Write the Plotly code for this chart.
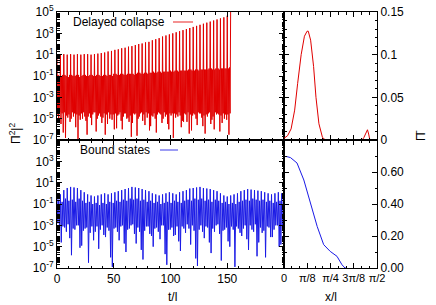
import math
import plotly.graph_objects as go

# ---------------- data ----------------
# Delayed collapse: log10 |Pi|^2 per oscillation cycle (samples every 0.5 t/l)
red_dt = 0.5
red_cycles = [
    (1.0, -4.6, -0.9, -5.2, -1.1, -4.4),
    (1.0, -5.5, -1.0, -4.5, -0.9, -6.3),
    (1.05, -4.4, -0.9, -6.8, -1.0, -4.7),
    (1.0, -4.9, -1.1, -4.6, -0.9, -5.3),
    (1.05, -5.0, -0.9, -4.4, -1.0, -4.8),
    (1.0, -4.5, -1.0, -5.8, -0.9, -4.6),
    (1.05, -6.9, -0.9, -4.7, -1.1, -5.1),
    (1.0, -4.5, -1.0, -5.0, -0.9, -4.4),
    (1.05, -4.8, -0.9, -5.2, -1.0, -6.5),
    (1.05, -4.8, -1.0, -4.5, -0.9, -4.9),
    (1.0, -5.6, -0.9, -4.6, -1.0, -4.4),
    (1.05, -4.4, -1.0, -6.2, -0.9, -5.0),
    (1.1, -4.7, -0.9, -4.5, -1.0, -4.8),
    (1.15, -5.4, -1.0, -4.9, -0.9, -4.5),
    (1.2, -6.5, -0.9, -4.6, -1.0, -5.5),
    (1.3, -4.4, -0.9, -5.0, -0.9, -4.6),
    (1.35, -5.1, -1.0, -4.6, -0.8, -6.0),
    (1.45, -4.5, -0.8, -5.9, -0.9, -4.7),
    (1.5, -4.6, -0.9, -4.4, -0.8, -5.2),
    (1.6, -6.0, -0.8, -4.8, -0.9, -4.5),
    (1.65, -4.5, -0.9, -5.0, -0.8, -4.9),
    (1.75, -5.3, -0.8, -4.7, -0.8, -6.7),
    (1.8, -5.4, -0.8, -4.5, -0.9, -4.6),
    (1.9, -4.5, -0.8, -6.6, -0.7, -5.0),
    (2.0, -4.8, -0.7, -4.5, -0.8, -4.4),
    (2.05, -5.2, -0.8, -4.6, -0.7, -5.6),
    (2.15, -4.4, -0.7, -4.9, -0.8, -4.5),
    (2.2, -6.1, -0.7, -5.7, -0.7, -4.7),
    (2.35, -4.8, -0.6, -4.5, -0.7, -5.0),
    (2.45, -6.3, -0.7, -4.6, -0.6, -4.4),
    (2.55, -4.5, -0.6, -4.6, -0.7, -5.4),
    (2.7, -5.0, -0.6, -4.4, -0.6, -4.8),
    (2.8, -4.6, -0.6, -5.5, -0.6, -6.0),
    (2.9, -4.5, -0.5, -4.7, -0.6, -4.5),
    (3.0, -6.8, -0.6, -4.5, -0.5, -4.9),
    (3.1, -4.6, -0.5, -4.8, -0.6, -4.4),
    (3.2, -4.7, -0.5, -5.8, -0.5, -5.2),
    (3.3, -5.3, -0.5, -4.5, -0.5, -4.6),
    (3.4, -5.3, -0.5, -4.4, -0.4, -6.4),
    (3.5, -4.6, -0.4, -6.1, -0.5, -4.7),
    (3.6, -4.5, -0.5, -4.6, -0.4, -5.0),
    (3.7, -5.6, -0.4, -4.4, -0.5, -4.5),
    (3.8, -4.5, -0.4, -4.9, -0.4, -5.7),
    (3.9, -4.7, -0.4, -6.4, -0.4, -4.6),
    (4.0, -4.8, -0.4, -4.5, -0.3, -4.4),
    (4.1, -5.5, -0.3, -5.1, -0.4, -4.8),
    (4.2, -6.0, -0.4, -4.4, -0.3, -4.6),
    (4.3, -4.5, -0.3, -4.6, -0.4, -6.2),
    (4.4, -4.7, -0.3, -5.4, -0.3, -4.5),
    (4.5, -5.0, -0.3, -4.6, -0.3, -5.1),
    (4.65, -4.6, -0.3, -6.5, -0.2, -4.5),
    (5.6,),
]

# Bound states: log10 |Pi|^2 per oscillation cycle (samples every 0.75 t/l)
blue_dt = 0.75
blue_cycles = [
    (-0.3, -2.8, -0.6, -3.4), (-0.1, -4.6, -0.8, -3.1), (0.3, -3.2, -0.5, -3.6),
    (0.5, -2.9, -0.7, -4.2), (0.6, -5.8, -0.6, -3.3), (0.55, -3.4, -0.8, -3.0),
    (0.5, -3.0, -0.5, -5.1), (0.3, -4.9, -0.7, -3.5), (0.1, -3.3, -0.9, -3.2),
    (-0.1, -6.5, -0.8, -3.7), (-0.2, -3.1, -1.0, -4.4), (-0.3, -3.6, -0.9, -3.1),
    (-0.2, -5.2, -1.1, -3.4), (-0.1, -3.0, -0.9, -3.9), (0.0, -4.1, -1.0, -3.2),
    (-0.1, -3.5, -0.8, -6.0), (0.0, -6.9, -0.9, -3.3), (0.1, -3.2, -0.7, -3.6),
    (0.2, -4.4, -0.8, -3.1), (0.3, -3.0, -0.6, -4.7), (0.4, -5.5, -0.7, -3.4),
    (0.5, -3.3, -0.5, -3.0), (0.6, -2.9, -0.6, -3.8), (0.55, -4.7, -0.5, -3.2),
    (0.5, -3.6, -0.7, -5.3), (0.4, -6.2, -0.6, -3.5), (0.3, -3.1, -0.8, -3.1),
    (0.2, -3.8, -0.7, -4.0), (0.0, -5.0, -0.9, -3.3), (-0.1, -3.2, -0.8, -3.6),
    (-0.2, -4.3, -1.0, -3.0), (-0.1, -3.0, -0.9, -5.7), (0.0, -6.7, -0.8, -3.4),
    (0.1, -3.4, -0.9, -3.2), (0.0, -4.0, -0.7, -3.9), (-0.1, -3.1, -0.8, -4.5),
    (0.1, -5.4, -0.9, -3.1), (0.2, -3.3, -0.7, -3.7), (0.3, -2.9, -0.6, -3.3),
    (0.45, -4.8, -0.7, -3.0), (0.5, -3.5, -0.5, -6.1), (0.55, -6.8, -0.6, -3.4),
    (0.6, -3.0, -0.5, -3.6), (0.5, -4.2, -0.7, -3.1), (0.45, -3.2, -0.6, -4.6),
    (0.4, -5.6, -0.8, -3.3), (0.3, -3.6, -0.6, -3.0), (0.2, -2.9, -0.7, -3.8),
    (0.0, -6.3, -0.9, -3.5), (-0.2, -3.4, -0.8, -3.2), (-0.3, -4.5, -1.0, -5.0),
    (-0.2, -3.1, -0.9, -3.4), (-0.1, -6.9, -1.0, -3.1), (0.0, -3.3, -0.8, -3.7),
    (0.2, -4.0, -0.7, -3.3), (0.3, -3.0, -0.6, -4.3), (0.4, -5.3, -0.7, -3.0),
    (0.35, -3.4, -0.5, -3.6), (0.3, -2.9, -0.6, -5.9), (0.25, -4.6, -0.7, -3.2),
    (0.2, -3.7, -0.6, -3.5), (0.1, -6.0, -0.8, -3.1), (0.0, -3.2, -0.7, -4.1),
    (-0.1, -4.1, -0.9, -3.4), (0.0, -3.0, -0.8, -3.0), (0.1, -5.0, -0.7, -4.8),
    (0.0, -3.5, -0.8, -3.3),
]

# Right panels: profile vs x/l
red_x = [0, 0.06, 0.12, 0.18, 0.23, 0.29, 0.345, 0.39, 0.41, 0.45, 0.50, 0.54,
         0.59, 0.65, 0.70, 1.32, 1.35, 1.38, 1.41, 1.43, 1.45, 1.52]
red_p = [0.002, 0.005, 0.013, 0.035, 0.066, 0.1, 0.1216, 0.1275, 0.1275, 0.117,
         0.086, 0.05, 0.019, 0.003, 0.0, 0.0, 0.003, 0.008, 0.012, 0.007, 0.0, 0.0]
blue_x = [0, 0.05, 0.11, 0.22, 0.335, 0.45, 0.56, 0.67, 0.78, 0.895, 0.98, 1.03, 1.06]
blue_p = [0.697, 0.696, 0.69, 0.656, 0.55, 0.41, 0.26, 0.146, 0.104, 0.073, 0.02, 0.0, 0.0]

decade_labels = ["10<sup>-7</sup>", "10<sup>-5</sup>", "10<sup>-3</sup>", "10<sup>-1</sup>",
                 "10<sup>1</sup>", "10<sup>3</sup>", "10<sup>5</sup>"]
decade_vals = [1e-7, 1e-5, 1e-3, 1e-1, 1e1, 1e3, 1e5]
t_ticks = [0, 50, 100, 150]
x_tick_text = ["0", "π/8", "π/4", "3π/8", "π/2"]

# ---------------- build ----------------
red_log = [v for c in red_cycles for v in c]
red_t = [i * red_dt for i in range(len(red_log))]
red_y = [10 ** v for v in red_log]
blue_log = [v for c in blue_cycles for v in c]
blue_t = [i * blue_dt for i in range(len(blue_log))]
blue_y = [10 ** v for v in blue_log]

RED = "#e00000"
BLUE = "#1a1ae6"
FONT = "Liberation Sans, Arial, sans-serif"

fig = go.Figure()
fig.add_trace(go.Scatter(x=red_t, y=red_y, mode="lines", line=dict(color=RED, width=1),
                         xaxis="x", yaxis="y", showlegend=False))
fig.add_trace(go.Scatter(x=red_x, y=red_p, mode="lines", line=dict(color=RED, width=1),
                         xaxis="x2", yaxis="y2", showlegend=False))
fig.add_trace(go.Scatter(x=blue_t, y=blue_y, mode="lines", line=dict(color=BLUE, width=1),
                         xaxis="x3", yaxis="y3", showlegend=False))
fig.add_trace(go.Scatter(x=blue_x, y=blue_p, mode="lines", line=dict(color=BLUE, width=1),
                         xaxis="x4", yaxis="y4", showlegend=False))

L, T, R, B = 57, 12, 59, 37
W, H = 436, 305
pw, ph = W - L - R, H - T - B
dL = (284 - L) / pw

common = dict(showline=True, linecolor="black", linewidth=1, mirror="ticks",
              ticks="inside", ticklen=5, tickcolor="black", showgrid=False,
              zeroline=False, automargin=False, tickangle=0,
              tickfont=dict(family=FONT, size=12, color="black"))

minor_log = [m * 10 ** k for k in range(-7, 5) for m in range(2, 10)] + \
            [10 ** k for k in range(-6, 5, 2)]
pi = math.pi
xr_vals = [0, pi / 8, pi / 4, 3 * pi / 8, pi / 2]
mtick = dict(ticks="inside", ticklen=2.5, tickcolor="black")

fig.update_layout(
    width=W, height=H, margin=dict(l=L, r=R, t=T, b=B),
    paper_bgcolor="white", plot_bgcolor="white",
    font=dict(family=FONT, size=12, color="black"),
    xaxis=dict(domain=[0, dL], range=[0, 200], anchor="y", tickvals=t_ticks,
               showticklabels=False, minor=dict(dtick=10, **mtick), **common),
    yaxis=dict(domain=[0.5, 1], type="log", range=[-7, 5], anchor="x",
               tickvals=decade_vals, ticktext=decade_labels,
               minor=dict(tickvals=minor_log, **mtick), **common),
    xaxis2=dict(domain=[dL, 1], range=[0, pi / 2], anchor="y2", tickvals=xr_vals,
                showticklabels=False, minor=dict(dtick=pi / 24, tick0=0, **mtick), **common),
    yaxis2=dict(domain=[0.5, 1], range=[0, 0.15], anchor="x2", side="right",
                tickvals=[0, 0.05, 0.1, 0.15], ticktext=["0", "0.05", "0.1", "0.15"],
                minor=dict(dtick=0.01, **mtick), **common),
    xaxis3=dict(domain=[0, dL], range=[0, 200], anchor="y3", tickvals=t_ticks,
                ticktext=[str(v) for v in t_ticks],
                minor=dict(dtick=10, **mtick), **common),
    yaxis3=dict(domain=[0, 0.5], type="log", range=[-7, 5], anchor="x3",
                tickvals=decade_vals[:-1], ticktext=decade_labels[:-1],
                minor=dict(tickvals=minor_log, **mtick), **common),
    xaxis4=dict(domain=[dL, 1], range=[0, pi / 2], anchor="y4", tickvals=xr_vals,
                ticktext=x_tick_text,
                minor=dict(dtick=pi / 24, tick0=0, **mtick), **common),
    yaxis4=dict(domain=[0, 0.5], range=[0, 0.8], anchor="x4", side="right",
                tickvals=[0, 0.2, 0.4, 0.6], ticktext=["0.00", "0.20", "0.40", "0.60"],
                minor=dict(dtick=0.1, **mtick), **common),
)
fig.update_xaxes(tickfont=dict(size=11), selector=dict(anchor="y4"))

def px(xp):
    return (xp - L) / pw

def py(yp):
    return (H - B - yp) / ph

ann = []
ann.append(dict(x=px(167), y=py(21.5), xref="paper", yref="paper", text="Delayed collapse",
                xanchor="right", yanchor="middle", showarrow=False, font=dict(size=12)))
ann.append(dict(x=px(152), y=py(150), xref="paper", yref="paper", text="Bound states",
                xanchor="right", yanchor="middle", showarrow=False, font=dict(size=12)))
ann.append(dict(x=px(172), y=py(297), xref="paper", yref="paper", text="t/l",
                xanchor="center", yanchor="middle", showarrow=False, font=dict(size=12)))
ann.append(dict(x=px(331), y=py(297), xref="paper", yref="paper", text="x/l",
                xanchor="center", yanchor="middle", showarrow=False, font=dict(size=12)))
ann.append(dict(x=px(15), y=py(134), xref="paper", yref="paper",
                text="Π<sup>2</sup>|<sup>2</sup>", textangle=-90,
                xanchor="center", yanchor="middle", showarrow=False, font=dict(size=12)))
ann.append(dict(x=px(421), y=py(136), xref="paper", yref="paper", text="Π̄", textangle=-90,
                xanchor="center", yanchor="middle", showarrow=False, font=dict(size=12)))
fig.update_layout(annotations=ann)

fig.update_layout(shapes=[
    dict(type="line", xref="paper", yref="paper", layer="above",
         x0=px(173), x1=px(193), y0=py(22), y1=py(22),
         line=dict(color="#ee5555", width=1.3)),
    dict(type="line", xref="paper", yref="paper", layer="above",
         x0=px(160), x1=px(178), y0=py(150), y1=py(150),
         line=dict(color="#6666ee", width=1.3)),
])

fig.write_html("out.html", config={"displayModeBar": False},
               post_script="document.body.style.margin='0';")
